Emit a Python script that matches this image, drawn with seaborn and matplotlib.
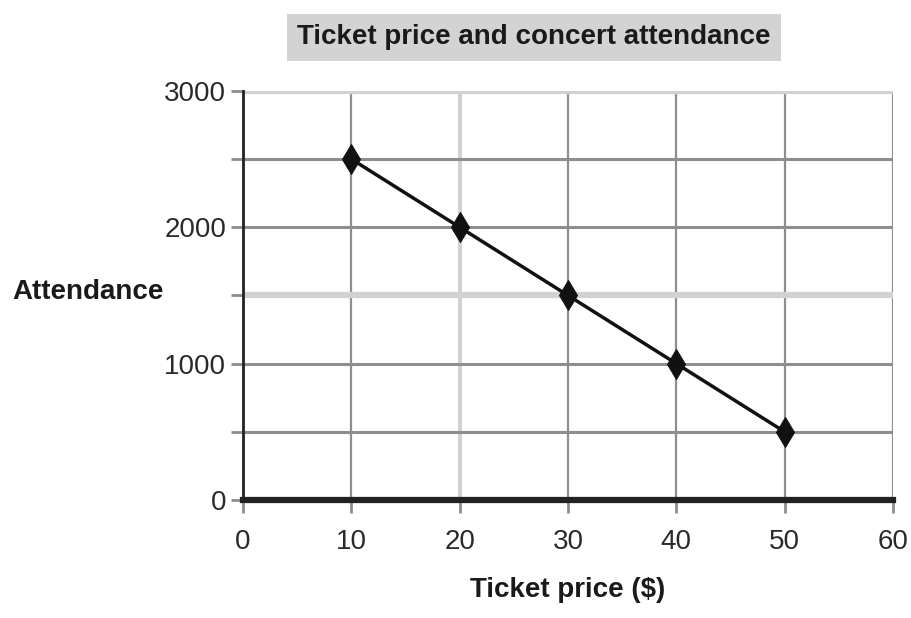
import matplotlib
matplotlib.use("Agg")
import matplotlib.pyplot as plt
import seaborn as sns
import pandas as pd

ticket_price = [10, 20, 30, 40, 50]
attendance = [2500, 2000, 1500, 1000, 500]
x_ticks = [0, 10, 20, 30, 40, 50, 60]
y_ticks = [0, 500, 1000, 1500, 2000, 2500, 3000]
y_labels = ["0", "", "1000", "", "2000", "", "3000"]

df = pd.DataFrame({"price": ticket_price, "attendance": attendance})

sns.set_theme(style="white")
plt.rcParams['font.family'] = ['Liberation Sans', 'DejaVu Sans']

fig = plt.figure(figsize=(9.11, 6.18), dpi=100)
ax = fig.add_axes([0.2667, 0.191, 0.7135, 0.662])

dark = "#8e8e8e"
light = "#d2d2d2"

ax.set_xlim(0, 60)
ax.set_ylim(0, 3000)
ax.set_xticks(x_ticks)
ax.set_yticks(y_ticks)
ax.set_yticklabels(y_labels)
ax.grid(True, zorder=0)
ax.set_axisbelow(True)

# colour each gridline like the reference
for val, gl in zip(y_ticks, ax.yaxis.get_gridlines()):
    if val in (1500, 3000):
        gl.set_color(light)
        gl.set_linewidth(4.5)
    else:
        gl.set_color(dark)
        gl.set_linewidth(2.2)
for val, gl in zip(x_ticks, ax.xaxis.get_gridlines()):
    if val == 20:
        gl.set_color(light)
        gl.set_linewidth(3)
    else:
        gl.set_color(dark)
        gl.set_linewidth(1.6)

sns.lineplot(data=df, x="price", y="attendance", ax=ax, color="#111111",
             linewidth=2.5, marker="d", markersize=15, markeredgecolor="#111111",
             zorder=3)

for s in ["top", "right"]:
    ax.spines[s].set_visible(False)
ax.spines["left"].set_color("#222222")
ax.spines["left"].set_linewidth(2)
ax.spines["bottom"].set_color("#222222")
ax.spines["bottom"].set_linewidth(4.5)
ax.spines["bottom"].set_zorder(4)

ax.tick_params(axis="both", which="both", length=9, width=2, color=dark,
               labelsize=20, labelcolor="#2a2a2a", pad=3,
               left=True, bottom=True)
ax.tick_params(axis="x", pad=12)

ax.set_xlabel("Ticket price ($)", fontsize=20, fontweight="bold",
              color="#1a1a1a", labelpad=16)
ax.set_ylabel("")
fig.text(0.014, 0.527, "Attendance", fontsize=20, fontweight="bold",
         color="#1a1a1a", ha="left", va="center")

fig.text(0.586, 0.94, "Ticket price and concert attendance", fontsize=20,
         fontweight="bold", color="#1a1a1a", ha="center", va="center",
         bbox=dict(boxstyle="square,pad=0.38", facecolor="#d3d3d3",
                   edgecolor="none"))

fig.savefig("out.png", dpi=100)
